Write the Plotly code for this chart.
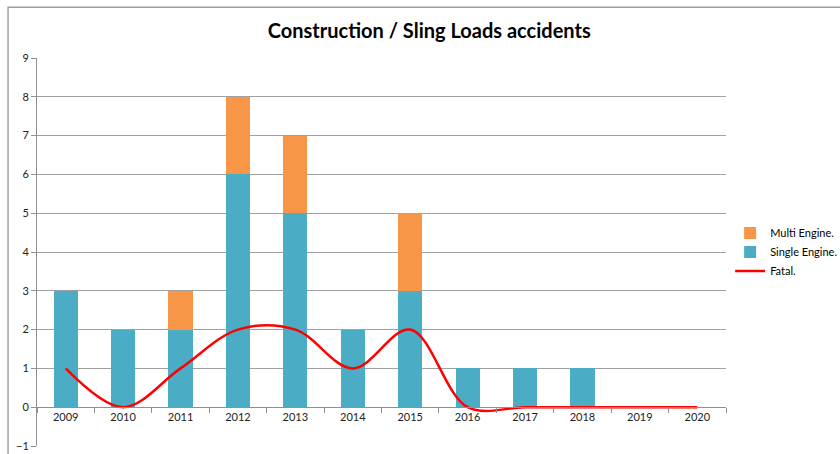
import plotly.graph_objects as go

years = ["2009", "2010", "2011", "2012", "2013", "2014", "2015", "2016", "2017", "2018", "2019", "2020"]
single_engine = [3, 2, 2, 6, 5, 2, 3, 1, 1, 1, 0, 0]
multi_engine = [0, 0, 1, 2, 2, 0, 2, 0, 0, 0, 0, 0]
fatal = [1, 0, 1, 2, 2, 1, 2, 0, 0, 0, 0, 0]
y_ticks = list(range(-1, 10))

FONT = "Lato, Open Sans, sans-serif"

fig = go.Figure()
fig.add_trace(go.Bar(x=years, y=single_engine, name="Single Engine.",
                     marker=dict(color="#4BACC6", line=dict(width=0)), legendrank=2))
fig.add_trace(go.Bar(x=years, y=multi_engine, name="Multi Engine.",
                     marker=dict(color="#F79646", line=dict(width=0)), legendrank=1))
fig.add_trace(go.Scatter(x=years, y=fatal, name="Fatal.", mode="lines",
                         line=dict(color="#FF0000", width=2.5, shape="spline", smoothing=1.0),
                         legendrank=3))

fig.update_layout(
    width=840, height=454,
    margin=dict(l=37, r=114, t=58, b=8, autoexpand=False),
    paper_bgcolor="white", plot_bgcolor="white",
    barmode="stack", bargap=0.58,
    title=dict(text="<b>Construction / Sling Loads accidents</b>", x=0.511, xref="container",
               xanchor="center", y=0.9317, yref="container", yanchor="middle",
               font=dict(family=FONT, size=20, color="black")),
    font=dict(family=FONT, size=11, color="#222"),
    showlegend=True,
    legend=dict(x=1.006, xanchor="left", y=0.5, yanchor="middle", traceorder="normal",
                font=dict(family=FONT, size=11, color="black"),
                bgcolor="rgba(0,0,0,0)", tracegroupgap=0),
    xaxis=dict(type="category", anchor="free", position=0.1,
               showline=True, linecolor="#909090", linewidth=1,
               ticks="outside", tickson="boundaries", ticklen=5, tickcolor="#909090",
               showgrid=False, tickfont=dict(size=11, color="#222")),
    yaxis=dict(range=[-1, 9], tickvals=y_ticks, showline=True, linecolor="#909090",
               linewidth=1, ticks="outside", ticklen=5, tickcolor="#909090",
               showgrid=True, gridcolor="#A0A0A0", gridwidth=1, zeroline=False,
               tickfont=dict(size=11, color="#222")),
)

# chart area border
fig.add_shape(type="rect", xref="paper", yref="paper", x0=-0.042, x1=1.3, y0=-0.03, y1=1.131,
              line=dict(color="#A0A0A0", width=1.5), fillcolor="rgba(0,0,0,0)", layer="below")

fig.write_html("out.html", config={"displayModeBar": False},
               post_script="document.body.style.margin='0';")
